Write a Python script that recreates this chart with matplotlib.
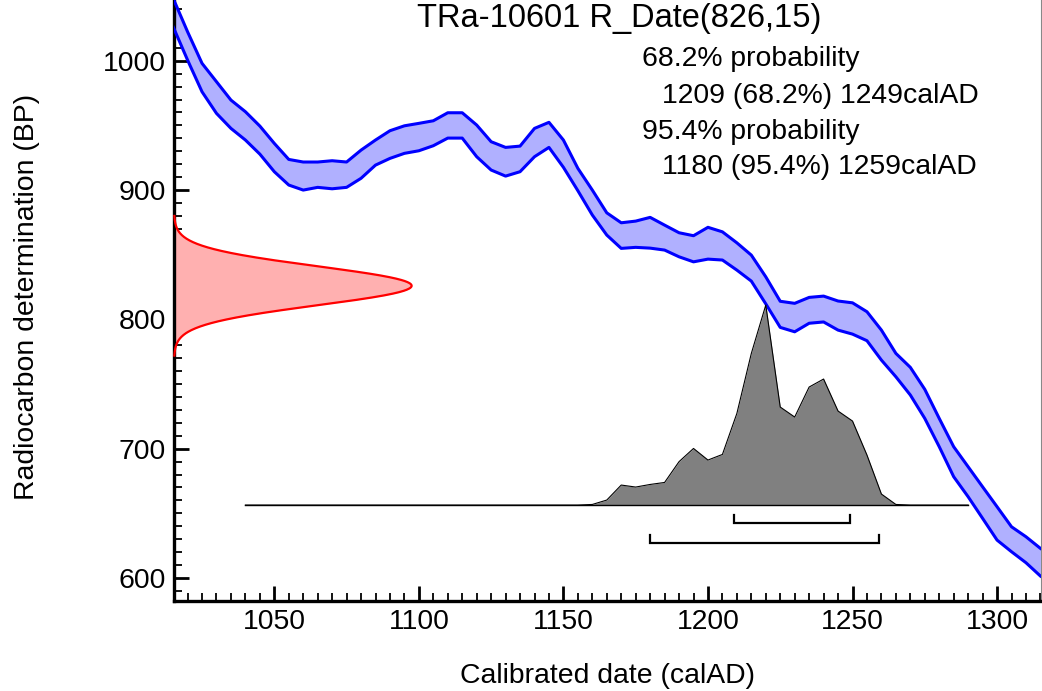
import matplotlib
matplotlib.use("Agg")
import matplotlib.pyplot as plt
import numpy as np

plt.rcParams['font.family'] = ['Liberation Sans', 'DejaVu Sans']

# ---------------- data ----------------
title = "TRa-10601 R_Date(826,15)"
r_date_bp = 826
r_date_err = 15

curve_years = list(range(1015, 1320, 5))
curve_upper = [1048.3, 1022.4, 998.0, 983.8, 969.6, 960.6, 949.5, 936.1, 923.7, 921.7,
               921.7, 922.7, 921.7, 930.9, 938.7, 945.9, 949.7, 951.6, 953.6, 959.8,
               959.8, 950.3, 937.4, 933.0, 934.0, 947.7, 952.4, 938.7, 916.8, 900.0,
               882.4, 874.7, 876.0, 878.9, 872.9, 867.0, 864.7, 871.2, 867.7, 859.2,
               849.7, 832.9, 814.0, 812.4, 817.0, 818.0, 814.2, 812.8, 805.9, 791.7,
               773.7, 762.9, 745.9, 723.4, 701.5, 686.0, 670.5, 655.1, 639.6, 631.9,
               622.9]
curve_lower = [1026.3, 1000.5, 976.0, 959.3, 947.7, 938.7, 927.8, 914.2, 903.9, 900.0,
               902.1, 901.0, 902.1, 909.1, 919.3, 924.5, 928.4, 930.4, 934.3, 940.2,
               940.2, 925.8, 915.5, 910.8, 914.2, 925.8, 933.0, 917.6, 899.5, 880.7,
               865.2, 854.9, 855.7, 855.1, 853.6, 848.4, 844.5, 846.6, 845.9, 838.1,
               829.6, 812.0, 793.8, 790.4, 797.0, 798.0, 791.7, 788.6, 783.5, 768.5,
               755.6, 741.5, 723.4, 701.5, 678.3, 662.8, 646.1, 629.3, 620.3, 611.8,
               601.5]

post_years = [1040, 1155, 1160, 1165, 1170, 1175, 1180, 1185, 1190, 1195, 1200, 1205,
              1210, 1215, 1220, 1225, 1230, 1235, 1240, 1245, 1250, 1255, 1260, 1265,
              1270, 1290]
post_prob = [0.0, 0.0, 0.003, 0.025, 0.10, 0.09, 0.103, 0.113, 0.217, 0.283, 0.225, 0.253,
             0.458, 0.758, 1.0, 0.49, 0.44, 0.59, 0.63, 0.47, 0.42, 0.25, 0.055, 0.003,
             0.0, 0.0]

range68 = (1209, 1249)
range95 = (1180, 1259)

info_lines = ["68.2% probability", "1209 (68.2%) 1249calAD",
              "95.4% probability", "1180 (95.4%) 1259calAD"]

# ---------------- layout ----------------
W, H = 1042, 691
fig = plt.figure(figsize=(W / 100, H / 100), dpi=100)
ax = fig.add_axes([174 / W, 1 - 601 / H, (1041 - 174) / W, 601 / H])

xmin, xmax = 1015.3, 1315.2
ymin, ymax = 582.2, 1047.0
ax.set_xlim(xmin, xmax)
ax.set_ylim(ymin, ymax)

# calibration curve band
ax.fill_between(curve_years, curve_lower, curve_upper, color='#b0b0ff', lw=0, zorder=2)
ax.plot(curve_years, curve_upper, color='#0000ff', lw=2.2, zorder=3)
ax.plot(curve_years, curve_lower, color='#0000ff', lw=2.2, zorder=3)

# radiocarbon date distribution on the y axis
ys = np.linspace(r_date_bp - 3.6 * r_date_err, r_date_bp + 3.6 * r_date_err, 400)
peak_w = 82.2
xs = xmin + peak_w * np.exp(-0.5 * ((ys - r_date_bp) / r_date_err) ** 2)
ax.fill_betweenx(ys, xmin, xs, color='#ffb0b0', lw=0, zorder=2)
ax.plot(xs, ys, color='#ff0000', lw=1.6, zorder=3, clip_on=False)

# calibrated posterior
base = 656.4
height = 154.7
py = [base + height * p for p in post_prob]
ax.fill_between(post_years, base, py, color='#808080', lw=0, zorder=4)
ax.plot(post_years, py, color='black', lw=0.8, zorder=5)
ax.plot([post_years[0], post_years[-1]], [base, base], color='black', lw=1.0, zorder=5)

# range brackets
tick_h = 6.2
for (a, b), yb in ((range68, 642.2), (range95, 627.2)):
    ax.plot([a, a, b, b], [yb + tick_h, yb, yb, yb + tick_h], color='black', lw=1.6,
            zorder=5, solid_joinstyle='miter')

# axes styling
for s in ('left', 'bottom'):
    ax.spines[s].set_linewidth(2.4)
    ax.spines[s].set_color('black')
ax.spines['top'].set_visible(False)
ax.spines['right'].set_linewidth(0.8)
ax.spines['right'].set_color('#888888')

ax.set_xticks([1050, 1100, 1150, 1200, 1250, 1300])
ax.set_xticks(np.arange(1020, 1316, 5), minor=True)
ax.set_yticks([600, 700, 800, 900, 1000])
ax.set_yticks(np.arange(590, 1047, 10), minor=True)
ax.tick_params(which='major', direction='in', length=10.5, width=2.0, labelsize=20.4,
               pad=6, right=False, top=False)
ax.tick_params(which='minor', direction='in', length=5.5, width=1.3, right=False, top=False)

fig.text(608 / W, 1 - 676 / H, "Calibrated date (calAD)", ha='center', va='center',
         fontsize=20.4)
fig.text(27 / W, 1 - 297 / H, "Radiocarbon determination (BP)", ha='center', va='center',
         rotation=90, fontsize=20.4)
fig.text(619 / W, 1 - 19 / H, title, ha='center', va='center', fontsize=23.5)

line_x = [642, 662, 642, 662]
line_y = [59, 96, 132, 167]
for txt, xx, yy in zip(info_lines, line_x, line_y):
    fig.text(xx / W, 1 - yy / H, txt, ha='left', va='center', fontsize=20.4)

fig.savefig("out.png", dpi=100)
